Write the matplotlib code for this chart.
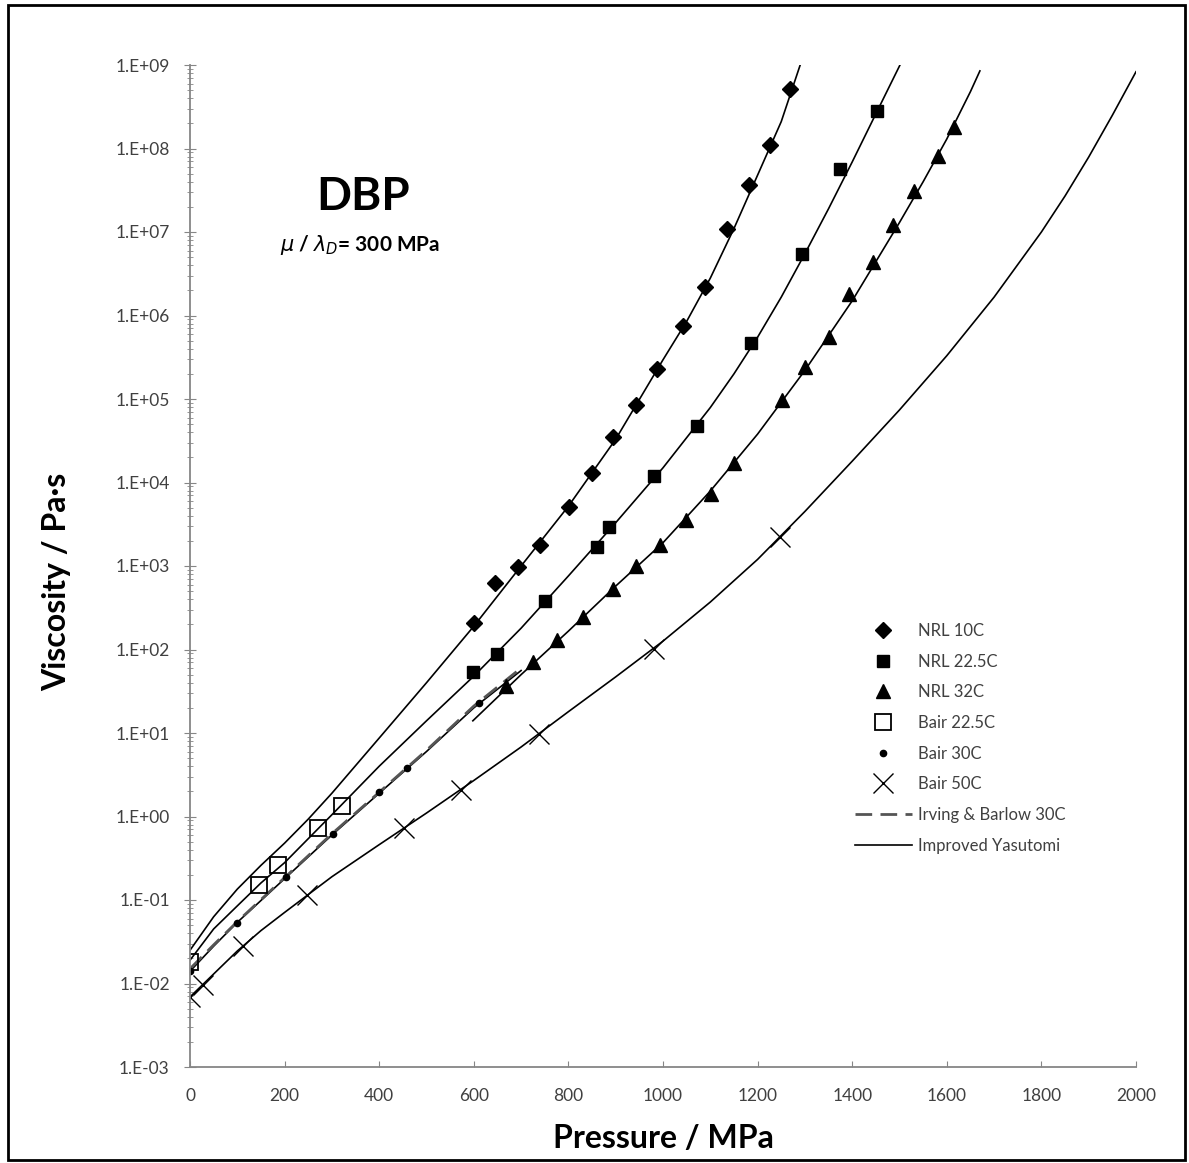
"""DBP viscosity vs pressure, NRL / Bair data with Improved Yasutomi fits."""

import matplotlib
matplotlib.use("Agg")
import matplotlib.pyplot as plt
from matplotlib.patches import Rectangle
from matplotlib.ticker import FixedLocator, FixedFormatter, LogLocator, NullFormatter

plt.rcParams["font.family"] = ["Lato", "DejaVu Sans"]

# measured points (pressure MPa, viscosity Pa.s)
nrl10_p = [600, 645, 693, 740, 801, 850, 894, 943, 987, 1042, 1089, 1135, 1182, 1226, 1268]
nrl10_eta = [210, 630, 980, 1800, 5100, 1.3e4, 3.5e4, 8.5e4, 2.3e5, 7.4e5, 2.2e6, 1.1e7,
             3.7e7, 1.1e8, 5.2e8]
nrl22_p = [598, 649, 751, 860, 886, 981, 1072, 1186, 1294, 1374, 1452]
nrl22_eta = [54, 89, 380, 1700, 2900, 1.2e4, 4.7e4, 4.7e5, 5.5e6, 5.7e7, 2.8e8]
nrl32_p = [668, 725, 776, 831, 894, 943, 994, 1049, 1101, 1150, 1252, 1300, 1351, 1393,
           1444, 1486, 1531, 1581, 1615]
nrl32_eta = [37, 71, 130, 245, 530, 1000, 1800, 3600, 7300, 1.7e4, 9.7e4, 2.4e5, 5.6e5,
             1.8e6, 4.4e6, 1.2e7, 3.1e7, 8.1e7, 1.8e8]
bair22_p = [0, 145, 187, 270, 321]
bair22_eta = [0.018, 0.15, 0.26, 0.73, 1.35]
bair30_p = [0, 100, 204, 302, 400, 458, 611]
bair30_eta = [0.014, 0.053, 0.19, 0.62, 1.95, 3.8, 23]
bair50_p = [0, 27, 112, 247, 452, 573, 738, 981, 1247]
bair50_eta = [0.0069, 0.0096, 0.028, 0.115, 0.73, 2.1, 9.8, 102, 2200]

# Irving & Barlow 30C
ib30_p = [0, 50, 100, 200, 300, 400, 500, 600, 700]
ib30_eta = [0.015, 0.029, 0.055, 0.185, 0.62, 1.95, 6.2, 21, 60]

# Improved Yasutomi curves
fit10_p = [0, 50, 100, 150, 200, 250, 300, 400, 500, 600, 700, 800, 900, 1000, 1050, 1100,
           1150, 1200, 1250, 1290]
fit10_eta = [0.025, 0.063, 0.135, 0.26, 0.48, 0.93, 1.9, 8.7, 40, 190, 1000, 5200, 3.3e4,
             2.95e5, 8.5e5, 2.8e6, 1.1e7, 4.8e7, 2.1e8, 1.0e9]
fit22_p = [0, 50, 100, 150, 200, 300, 400, 500, 600, 700, 800, 900, 1000, 1100, 1150,
           1200, 1250, 1300, 1350, 1400, 1450, 1501]
fit22_eta = [0.019, 0.045, 0.085, 0.16, 0.28, 1.05, 4.0, 14, 48, 180, 760, 3300, 1.5e4,
             7.9e4, 2.0e5, 5.5e5, 1.66e6, 5.5e6, 1.9e7, 6.9e7, 2.6e8, 1.0e9]
fit30_p = [0, 50, 100, 200, 300, 400, 500, 600, 700]
fit30_eta = [0.014, 0.028, 0.054, 0.18, 0.60, 1.9, 6.0, 20, 56]
fit32_p = [598, 700, 800, 900, 1000, 1100, 1200, 1300, 1400, 1500, 1550, 1600, 1650, 1670]
fit32_eta = [14, 50, 166, 575, 1900, 7900, 3.8e4, 2.2e5, 1.5e6, 1.3e7, 4.0e7, 1.3e8, 4.8e8,
             8.5e8]
fit50_p = [0, 50, 100, 150, 200, 300, 400, 500, 600, 700, 800, 900, 1000, 1100, 1200, 1300,
           1400, 1500, 1600, 1700, 1800, 1850, 1900, 1950, 2000]
fit50_eta = [0.0069, 0.013, 0.0245, 0.043, 0.071, 0.19, 0.46, 1.1, 2.7, 6.8, 18, 47, 126,
             370, 1200, 4500, 1.8e4, 7.4e4, 3.3e5, 1.66e6, 1.0e7, 2.7e7, 7.9e7, 2.5e8, 8.3e8]

x_ticks = [0, 200, 400, 600, 800, 1000, 1200, 1400, 1600, 1800, 2000]
y_ticks = [1e-3, 1e-2, 1e-1, 1e0, 1e1, 1e2, 1e3, 1e4, 1e5, 1e6, 1e7, 1e8, 1e9]
y_labels = ["1.E-03", "1.E-02", "1.E-01", "1.E+00", "1.E+01", "1.E+02", "1.E+03",
            "1.E+04", "1.E+05", "1.E+06", "1.E+07", "1.E+08", "1.E+09"]

fig = plt.figure(figsize=(11.89, 11.63), dpi=100)
ax = fig.add_axes([190 / 1189, 1 - 1067 / 1163, (1136 - 190) / 1189, (1067 - 65) / 1163])

line_kw = dict(color="black", lw=1.2)
for p, eta in [(fit10_p, fit10_eta), (fit22_p, fit22_eta), (fit30_p, fit30_eta),
               (fit32_p, fit32_eta)]:
    ax.plot(p, eta, **line_kw)
ax.plot(fit50_p, fit50_eta, label="Improved Yasutomi", **line_kw)
ax.plot(ib30_p, ib30_eta, color="#555555", lw=2.0, dashes=(6, 3),
        label="Irving & Barlow 30C")

ax.plot(nrl10_p, nrl10_eta, "D", color="black", ms=8, ls="none", label="NRL 10C")
ax.plot(nrl22_p, nrl22_eta, "s", color="black", ms=8.5, ls="none", label="NRL 22.5C")
ax.plot(nrl32_p, nrl32_eta, "^", color="black", ms=10, ls="none", label="NRL 32C")
ax.plot(bair22_p, bair22_eta, "s", mfc="none", mec="black", mew=1.3, ms=12, ls="none",
        label="Bair 22.5C")
ax.plot(bair30_p, bair30_eta, "o", color="black", ms=4.5, ls="none", label="Bair 30C")
ax.plot(bair50_p, bair50_eta, "x", color="black", ms=14, mew=1.0, ls="none",
        label="Bair 50C")

ax.set_yscale("log")
ax.set_xlim(0, 2000)
ax.set_ylim(1e-3, 1e9)
ax.xaxis.set_major_locator(FixedLocator(x_ticks))
ax.yaxis.set_major_locator(FixedLocator(y_ticks))
ax.yaxis.set_major_formatter(FixedFormatter(y_labels))
ax.yaxis.set_minor_locator(LogLocator(base=10, subs=range(2, 10), numticks=100))
ax.yaxis.set_minor_formatter(NullFormatter())

for side in ("top", "right"):
    ax.spines[side].set_visible(False)
for side in ("left", "bottom"):
    ax.spines[side].set_color("#868686")
    ax.spines[side].set_linewidth(1.3)

ax.tick_params(axis="x", direction="in", length=4, color="#868686", labelsize=12.5,
               labelcolor="#404040", pad=15)
ax.tick_params(axis="y", which="major", direction="inout", length=9, color="#868686",
               labelsize=12.5, labelcolor="#404040", pad=10)
ax.tick_params(axis="y", which="minor", direction="inout", length=5, color="#868686")

fig.text(663 / 1189, 1 - 1138 / 1163, "Pressure / MPa", ha="center", va="center",
         fontsize=23, fontweight="bold")
fig.text(57 / 1189, 1 - 582 / 1163, "Viscosity / Pa·s", ha="center", va="center",
         rotation=90, fontsize=23, fontweight="bold")
fig.text(363 / 1189, 1 - 197 / 1163, "DBP", ha="center", va="center", fontsize=33,
         fontweight="bold")
fig.text(360 / 1189, 1 - 245 / 1163, r"$\mu$ / $\lambda_D$= 300 MPa", ha="center",
         va="center", fontsize=15, fontweight="bold")

handles, labels = ax.get_legend_handles_labels()
order = ["NRL 10C", "NRL 22.5C", "NRL 32C", "Bair 22.5C", "Bair 30C", "Bair 50C",
         "Irving & Barlow 30C", "Improved Yasutomi"]
lookup = dict(zip(labels, handles))
fig.legend([lookup[k] for k in order], order, loc="upper left",
           bbox_to_anchor=(855 / 1189, 1 - 623 / 1163), frameon=False, fontsize=12,
           handlelength=3.4, handletextpad=0.35, labelspacing=0.88, borderpad=0,
           borderaxespad=0, labelcolor="#404040")

fig.add_artist(Rectangle((8 / 1189, 3 / 1163), (1185 - 8) / 1189, (1158 - 3) / 1163,
                         transform=fig.transFigure, fill=False, lw=2, ec="black"))

fig.savefig("out.png", dpi=100)
plt.close(fig)
